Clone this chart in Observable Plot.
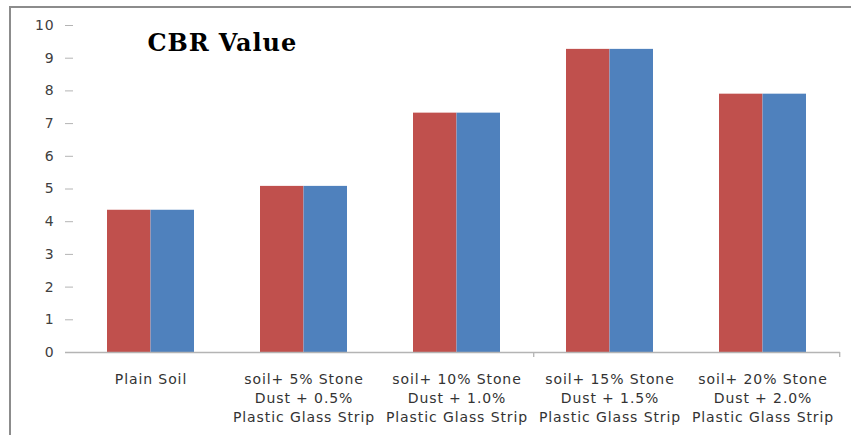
<!DOCTYPE html>
<html>
<head>
<meta charset="utf-8">
<script src="https://cdn.jsdelivr.net/npm/d3@7"></script>
<script src="https://cdn.jsdelivr.net/npm/@observablehq/plot@0.6"></script>
<style>
  html, body { margin: 0; padding: 0; background: #fff; }
  #wrap { position: relative; width: 851px; height: 435px; overflow: hidden; }
  #frame { position: absolute; left: 9px; top: 6px; width: 1000px; height: 1000px;
           border-top: 2px solid #8c8c8c; border-left: 2px solid #8c8c8c; pointer-events: none; }
</style>
</head>
<body>
<div id="wrap"><div id="frame"></div></div>
<script>
const categories = [
  "Plain Soil",
  "soil+ 5% Stone\nDust + 0.5%\nPlastic Glass Strip",
  "soil+ 10% Stone\nDust + 1.0%\nPlastic Glass Strip",
  "soil+ 15% Stone\nDust + 1.5%\nPlastic Glass Strip",
  "soil+ 20% Stone\nDust + 2.0%\nPlastic Glass Strip"
];
const seriesA = [4.35, 5.08, 7.32, 9.27, 7.90];
const seriesB = [4.35, 5.08, 7.32, 9.27, 7.90];
const yTicks = [0, 1, 2, 3, 4, 5, 6, 7, 8, 9, 10];
const tickAfter = [categories[2], categories[4]];
const title = "CBR Value";

const data = categories.map((c, i) => ({cat: c, a: seriesA[i], b: seriesB[i]}));

const W = 851, H = 435, ML = 73, MR = 11, MT = 25, MB = 83;
const padIn = 0.4325, padOut = 0.216;
const step = (W - ML - MR) / (categories.length - padIn + 2 * padOut);
const bw = step * (1 - padIn);

const chart = Plot.plot({
  width: W, height: H,
  marginLeft: ML, marginRight: MR, marginTop: MT, marginBottom: MB,
  style: {fontFamily: "DejaVu Sans", fontSize: "14px", color: "#404040", letterSpacing: "0.9px", background: "transparent"},
  x: {type: "band", domain: categories, paddingInner: padIn, paddingOuter: padOut, axis: null},
  y: {domain: [0, 10], axis: null},
  marks: [
    Plot.barY(data, {x: "cat", y: "a", fill: "#C0504D", insetLeft: 0, insetRight: bw / 2}),
    Plot.barY(data, {x: "cat", y: "b", fill: "#4F81BD", insetLeft: bw / 2, insetRight: 0}),
    Plot.ruleY([0], {stroke: "#b4b4b4", strokeWidth: 1.3, insetLeft: -8}),
    Plot.ruleX(tickAfter, {x: d => d, y1: 0, y2: 0, insetBottom: -5, dx: step / 2, stroke: "#b4b4b4", strokeWidth: 1.3}),
    Plot.axisY({ticks: yTicks, tickSize: 8, tickPadding: 11, stroke: "#b4b4b4", fill: "#404040", fontSize: 14, label: null}),
    Plot.axisX({tickSize: 0, tickPadding: 18, lineHeight: 1.35, fill: "#333", fontSize: 14, label: null}),
    Plot.text([title], {frameAnchor: "top-left", dx: 74, dy: 18, lineAnchor: "middle", textAnchor: "start",
      fontFamily: "DejaVu Serif", fontWeight: "bold", fontSize: 24, fill: "#000", letterSpacing: "2.4px"})
  ]
});
document.getElementById("wrap").prepend(chart);
</script>
</body>
</html>
